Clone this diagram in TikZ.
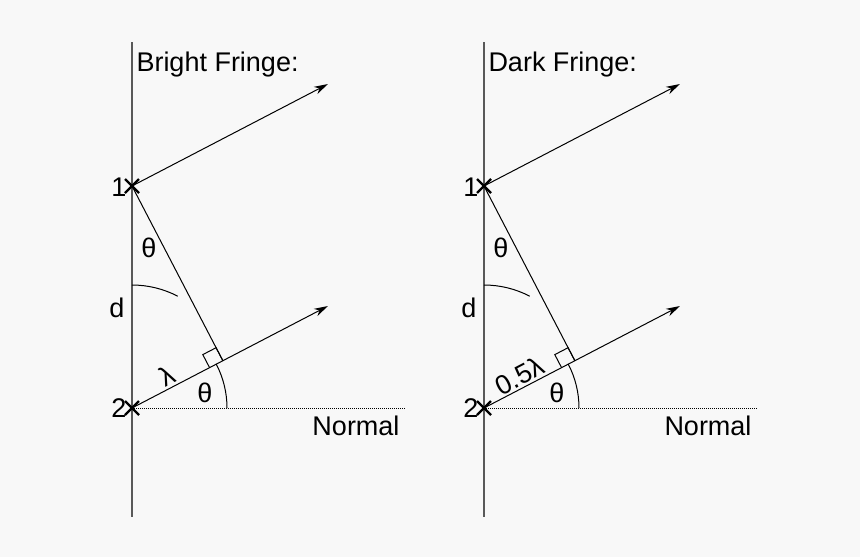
\documentclass[tikz,border=0pt]{standalone}
\usepackage{fontspec}
\setmainfont{Liberation Sans}
\usetikzlibrary{arrows.meta,calc}
\definecolor{bg}{HTML}{F8F8F8}
\begin{document}
\begin{tikzpicture}[x=1pt,y=-1pt,line width=1pt,
    lbl/.style={font=\fontsize{27}{30}\selectfont, inner sep=1pt},
    ray/.style={-{Stealth[length=14pt,width=8pt]}},
    cross/.style={line width=2.2pt}
]
\fill[bg] (0,0) rectangle (860,557);
\useasboundingbox (0,0) rectangle (860,557);
\foreach \ox/\title/\plab in {0/Bright Fringe:/λ, 352/Dark Fringe:/0.5λ}{
  \begin{scope}[xshift=\ox pt]
    % screen and sources
    \draw[gray!70!black, line width=1.2pt] (132,42) -- (132,517);
    \coordinate (s1) at (132,186);
    \coordinate (s2) at (132,408);
    \coordinate (foot) at (223,361);
    \node[lbl, anchor=west] (title) at (135,65) {\title};
    \node[lbl, anchor=east] (n1) at (128,187) {1};
    \node[lbl, anchor=east] (n2) at (128,408) {2};
    \node[lbl] (d) at (117,308) {d};
    % rays
    \coordinate (e1) at (328,84);
    \coordinate (e2) at (328,306);
    \draw[ray] (s1) -- (e1);
    \draw[ray] (s2) -- (e2);
    \draw (s1) -- (foot);
    \draw[densely dotted] (s2) -- (405,408);
    \node[lbl] (normal) at (356,426) {Normal};
    % right angle
    \draw ($(foot)+(-13.3,6.9)$) -- ++(-6.9,-13.3) -- ++(13.3,-6.9) -- ++(6.9,13.3);
    % angles
    \draw (132,285) arc[start angle=-90, end angle=-62.5, radius=99];
    \draw (227,408) arc[start angle=0, end angle=-27.5, radius=95];
    \node[lbl] (t1) at (149,248) {θ};
    \node[lbl] (t2) at (205,393) {θ};
    \node[lbl, rotate=27.5, anchor=south, inner sep=2pt] (pd) at ($(s2)!0.45!(foot)$) {\plab};
    % crosses
    \draw[cross] ($(s1)+(-7,-7)$) -- ($(s1)+(7,7)$) ($(s1)+(-7,7)$) -- ($(s1)+(7,-7)$);
    \draw[cross] ($(s2)+(-7,-7)$) -- ($(s2)+(7,7)$) ($(s2)+(-7,7)$) -- ($(s2)+(7,-7)$);
  \end{scope}
}
\end{tikzpicture}
\end{document}
